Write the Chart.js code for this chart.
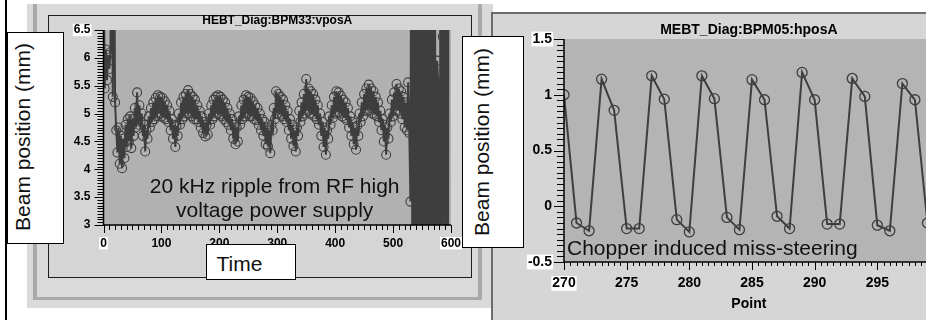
<!DOCTYPE html>
<html>
<head>
<meta charset="utf-8">
<script src="https://cdn.jsdelivr.net/npm/chart.js@4.4.1/dist/chart.umd.min.js"></script>
<style>
  html, body { margin: 0; padding: 0; }
  body {
    width: 926px; height: 320px; overflow: hidden; position: relative;
    background: #fff; font-family: "Liberation Sans", Arial, sans-serif; color: #111;
  }
  .abs { position: absolute; box-sizing: border-box; }
  .box { background: #fff; border: 1px solid #000; }
  .big { font-size: 21px; line-height: 24px; white-space: nowrap; }
  .rot { transform: translate(-50%, -50%) rotate(-90deg); line-height: 21px; }
</style>
</head>
<body>

<!-- frames of the two screenshots -->
<div class="abs" style="left:5px;top:0;width:2px;height:320px;background:#000"></div>
<div class="abs" style="left:27px;top:4px;width:466px;height:304px;background:#dadada"></div>
<div class="abs" style="left:33px;top:4px;width:449px;height:296px;border-left:4px solid #a9a9a9;border-right:4px solid #a9a9a9;border-bottom:3px solid #a9a9a9"></div>
<div class="abs" style="left:48px;top:15px;width:424px;height:263px;background:#d5d5d5;border:1px solid #1e1e1e"></div>
<div class="abs" style="left:491px;top:12px;width:440px;height:310px;background:#d6d6d6;border-left:2px solid #6c6c6c;border-top:2px solid #6c6c6c"></div>

<div class="abs" style="left:48px;top:15px;width:422px;height:262px"><canvas id="hebt" width="422" height="262"></canvas></div>
<div class="abs" style="left:495px;top:15px;width:445px;height:305px"><canvas id="mebt" width="445" height="305"></canvas></div>

<!-- pasted labels -->
<div class="abs box" style="left:7px;top:32px;width:57px;height:212px"></div>
<div class="abs big rot" style="left:21.5px;top:137px">Beam position (mm)</div>
<div class="abs box" style="left:206px;top:244px;width:90px;height:36px"></div>
<div class="abs big" style="left:216.5px;top:253px;line-height:21px">Time</div>
<div class="abs big" style="left:124.7px;top:174px;width:300px;text-align:center">20 kHz ripple from RF high<br>voltage power supply</div>

<div class="abs box" style="left:462px;top:36px;width:62px;height:212px"></div>
<div class="abs big rot" style="left:481px;top:142px">Beam position (mm)</div>
<div class="abs big" style="left:567px;top:236px">Chopper induced miss-steering</div>

<script>
// HEBT_Diag:BPM33:vposA, one reading every 2 time units from t = 0
const vposStart = 0;
const vposStep = 2;
const vposA = [
  9, 5.45, 6.15, 5.6, 6.05, 5.8, 6.1, 9, 5.3, 9,
  5.2, 4.7, 4.3, 4.75, 4.1, 4.6, 4.02, 4.55, 4.2, 4.8,
  4.4, 4.9, 4.5, 4.95, 4.38, 4.9, 4.6, 5.1, 4.75, 5.38,
  4.8, 5.15, 4.85, 5.0, 4.6, 4.8, 4.32, 4.7, 4.55, 4.95,
  4.75, 5.1, 4.85, 5.2, 4.9, 5.28, 4.95, 5.33, 5.0, 5.3,
  4.95, 5.28, 4.92, 5.22, 4.9, 5.15, 4.85, 5.05, 4.7, 4.9,
  4.55, 4.8, 4.4, 4.78, 4.6, 5.0, 4.8, 5.2, 4.9, 5.3,
  4.95, 5.35, 5.0, 5.42, 5.0, 5.35, 4.95, 5.3, 4.9, 5.25,
  4.9, 5.15, 4.85, 5.05, 4.75, 4.95, 4.65, 4.85, 4.59, 4.8,
  4.62, 5.0, 4.8, 5.15, 4.9, 5.25, 4.95, 5.3, 5.0, 5.33,
  4.98, 5.3, 4.95, 5.25, 4.9, 5.2, 4.85, 5.1, 4.8, 5.0,
  4.7, 4.9, 4.55, 4.8, 4.45, 4.75, 4.5, 4.95, 4.8, 5.15,
  4.9, 5.25, 4.95, 5.33, 5.0, 5.3, 4.95, 5.28, 4.95, 5.22,
  4.9, 5.15, 4.88, 5.1, 4.8, 5.0, 4.7, 4.9, 4.6, 4.85,
  4.45, 4.75, 4.41, 4.7, 4.29, 4.8, 4.7, 5.1, 4.9, 5.4,
  5.0, 5.35, 4.98, 5.3, 4.95, 5.25, 4.9, 5.15, 4.85, 5.05,
  4.7, 4.9, 4.55, 4.8, 4.42, 4.7, 4.32, 4.75, 4.6, 5.05,
  4.85, 5.2, 4.95, 5.35, 5.0, 5.62, 5.05, 5.45, 5.0, 5.4,
  4.98, 5.35, 4.95, 5.25, 4.9, 5.15, 4.8, 5.0, 4.6, 4.85,
  4.4, 4.75, 4.26, 4.7, 4.55, 4.95, 4.8, 5.15, 4.92, 5.3,
  5.0, 5.4, 5.02, 5.38, 5.0, 5.32, 4.95, 5.25, 4.92, 5.2,
  4.88, 5.1, 4.75, 4.95, 4.6, 4.85, 4.45, 4.75, 4.35, 4.78,
  4.6, 5.0, 4.85, 5.2, 4.95, 5.35, 5.05, 5.45, 5.05, 5.52,
  5.05, 5.45, 5.0, 5.4, 4.98, 5.3, 4.95, 5.2, 4.85, 5.05,
  4.7, 4.9, 4.5, 4.8, 4.26, 4.75, 4.55, 5.0, 4.85, 5.25,
  4.95, 5.38, 5.05, 5.53, 5.05, 5.45, 5.0, 5.4, 4.9, 5.3,
  4.75, 5.2, 4.7, 5.56, 4.65, 3.42, 12, -6, 12, -6,
  12, -6, 12, -6, 12, -6, 12, -6, 12, -6,
  12, -6, 12, -6, 12, -6, 12, -6, 5.95, 5.55,
  -6, 12, -6, 6.38, 12, -6, 12, -6, 12
];

// MEBT_Diag:BPM05:hposA
const hposPoint = [270, 271, 272, 273, 274, 275, 276, 277, 278, 279,
  280, 281, 282, 283, 284, 285, 286, 287, 288, 289,
  290, 291, 292, 293, 294, 295, 296, 297, 298, 299];
const hposA = [1.0, -0.15, -0.22, 1.14, 0.86, -0.2, -0.2, 1.17, 0.96, -0.12,
  -0.23, 1.17, 0.965, -0.1, -0.21, 1.135, 0.955, -0.09, -0.2, 1.2,
  0.955, -0.16, -0.16, 1.146, 0.985, -0.17, -0.22, 1.1, 0.955, -0.15];

const ink = "#3e3e3e";
const fam = '"Liberation Sans", Arial, sans-serif';

// grey plot area like the old EPICS viewer
const plotBg = (color) => ({
  id: "plotBg",
  beforeDraw(chart) {
    const { ctx, chartArea: a } = chart;
    ctx.save();
    ctx.fillStyle = color;
    ctx.fillRect(a.left, a.top, a.right - a.left, a.bottom - a.top);
    ctx.restore();
  },
});

// axis lines plus major and minor tick marks, placed by the chart scales
const rulers = (spec) => ({
  id: "rulers",
  afterDraw(chart) {
    const { ctx, chartArea: a, scales } = chart;
    ctx.save();
    ctx.strokeStyle = "#000";
    ctx.lineWidth = 1.5;
    ctx.beginPath();
    ctx.moveTo(a.left, a.top);
    ctx.lineTo(a.left, a.bottom);
    ctx.lineTo(a.right, a.bottom);
    ctx.stroke();
    ctx.lineWidth = 1;
    ctx.beginPath();
    ["x", "y"].forEach((id) => {
      const s = scales[id];
      spec[id].forEach((m) => {
        const n = Math.round((s.max - s.min) / m.step);
        for (let i = 0; i <= n; i++) {
          const p = Math.round(s.getPixelForValue(s.min + i * m.step)) + 0.5;
          if (id === "x") {
            ctx.moveTo(p, a.bottom);
            ctx.lineTo(p, a.bottom + m.len);
          } else {
            ctx.moveTo(a.left - m.len, p);
            ctx.lineTo(a.left, p);
          }
        }
      });
    });
    ctx.stroke();
    ctx.restore();
  },
});

const whiteOn = (vals) => (c) =>
  c.tick && vals.includes(c.tick.value) ? "#fff" : "rgba(0,0,0,0)";

const axis = (opts) => ({
  type: "linear",
  min: opts.min,
  max: opts.max,
  afterFit: opts.fit,
  title: opts.title || { display: false },
  ticks: {
    stepSize: opts.step,
    padding: opts.pad,
    color: "#000",
    maxRotation: 0,
    autoSkip: false,
    includeBounds: false,
    font: { family: fam, size: opts.size, weight: "bold" },
    callback: (v) => String(Math.round(v * 100) / 100),
    showLabelBackdrop: true,
    backdropColor: whiteOn(opts.white),
    backdropPadding: { left: 1, right: 1, top: -1, bottom: -1 },
  },
  grid: { display: false, drawTicks: false },
  border: { display: false },
});

// fixed axis sizes so both plot frames sit where the screenshots have them
const fixX = (h) => (s) => { s.height = h; s.paddingLeft = 0; s.paddingRight = 0; };
const fixY = (w) => (s) => { s.width = w; s.paddingTop = 0; s.paddingBottom = 0; };

const chartOptions = (cfg) => ({
  responsive: false,
  animation: false,
  events: [],
  layout: { padding: { left: 0, right: cfg.right, top: 0, bottom: 0 } },
  plugins: {
    legend: { display: false },
    tooltip: { enabled: false },
    title: {
      display: true,
      text: cfg.title,
      fullSize: false,
      color: "#000",
      font: { family: fam, size: cfg.titleSize, weight: "bold", lineHeight: cfg.titleLH },
      padding: cfg.titlePad,
    },
  },
  scales: { x: cfg.x, y: cfg.y },
});

new Chart(document.getElementById("hebt"), {
  type: "line",
  data: {
    datasets: [{
      data: vposA.map((v, i) => ({ x: vposStart + i * vposStep, y: v })),
      borderColor: ink,
      borderWidth: 2,
      pointRadius: 4.5,
      pointBorderWidth: 1.1,
      pointBorderColor: ink,
      pointBackgroundColor: "rgba(0,0,0,0)",
      tension: 0,
    }],
  },
  options: chartOptions({
    right: 19,
    title: "HEBT_Diag:BPM33:vposA",
    titleSize: 12,
    titleLH: 1,
    titlePad: { top: 0, bottom: 3 },
    x: axis({ min: 0, max: 600, step: 100, pad: 11, size: 12, white: [0, 600], fit: fixX(52) }),
    y: axis({ min: 3, max: 6.5, step: 0.5, pad: 13, size: 12, white: [6.5], fit: fixY(55.5) }),
  }),
  plugins: [
    plotBg("#b1b1b1"),
    rulers({ x: [{ step: 100, len: 8 }, { step: 10, len: 5 }],
             y: [{ step: 0.5, len: 9 }, { step: 0.05, len: 6 }] }),
  ],
});

new Chart(document.getElementById("mebt"), {
  type: "line",
  data: {
    datasets: [{
      data: hposA.map((v, i) => ({ x: hposPoint[i], y: v })),
      borderColor: ink,
      borderWidth: 2,
      pointRadius: 5,
      pointBorderWidth: 1.3,
      pointBorderColor: ink,
      pointBackgroundColor: "rgba(0,0,0,0)",
      tension: 0,
    }],
  },
  options: chartOptions({
    right: 0,
    title: "MEBT_Diag:BPM05:hposA",
    titleSize: 14,
    titleLH: 1.2,
    titlePad: { top: 6.6, bottom: 0.6 },
    x: axis({ min: 270, max: 299.5, step: 5, pad: 13, size: 14, white: [270],
      title: { display: true, text: "Point", color: "#000",
        font: { family: fam, size: 14, weight: "bold" }, padding: { top: 0, bottom: 7.6 } },
      fit: fixX(58) }),
    y: axis({ min: -0.5, max: 1.5, step: 0.5, pad: 12, size: 14, white: [1.5, -0.5], fit: fixY(69) }),
  }),
  plugins: [
    plotBg("#b4b4b4"),
    rulers({ x: [{ step: 5, len: 8 }, { step: 0.5, len: 4 }],
             y: [{ step: 0.5, len: 10 }, { step: 0.05, len: 7 }] }),
  ],
});
</script>
</body>
</html>
